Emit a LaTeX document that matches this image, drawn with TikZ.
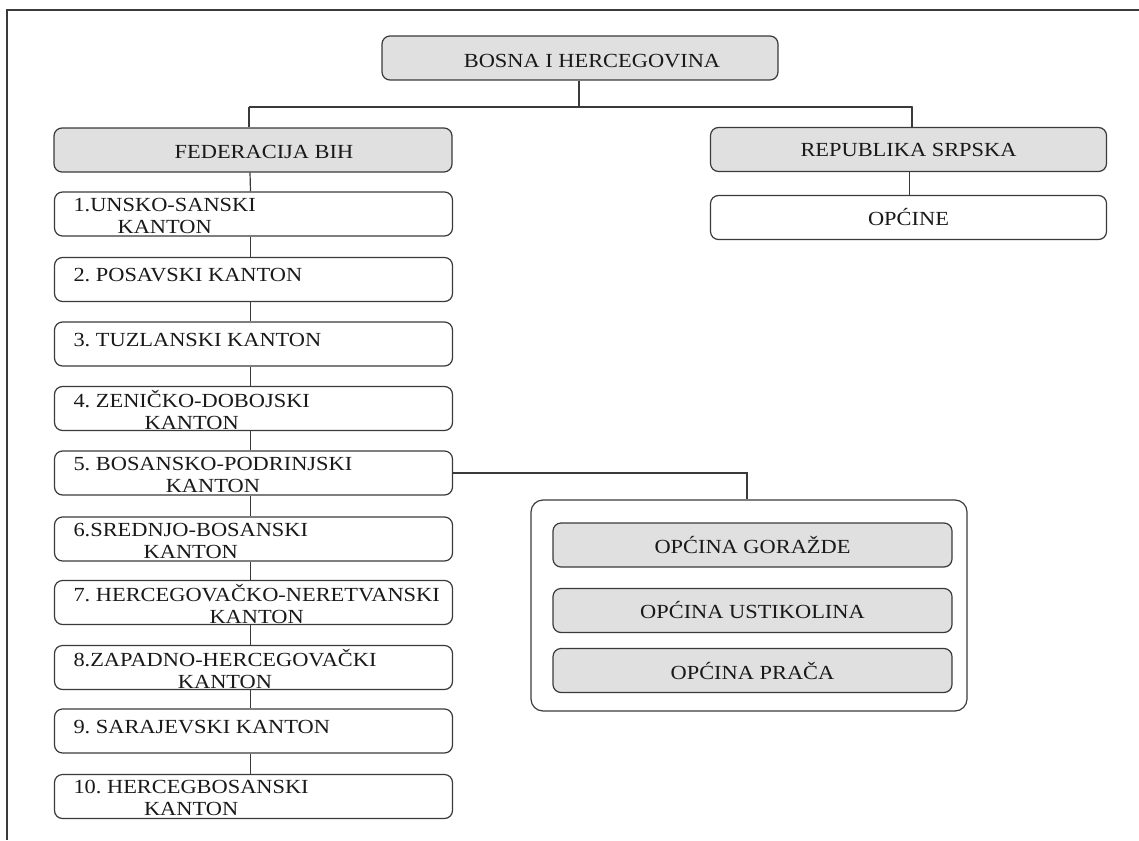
\documentclass[tikz,border=0pt]{standalone}
\usepackage{fontspec}
\setmainfont{Liberation Serif}[FakeStretch=1.12]

\definecolor{boxgray}{HTML}{E0E0E0}
\definecolor{linegray}{HTML}{3A3A3A}

\tikzset{
  unit/.style={draw=linegray, line width=0.6pt, rounded corners=4pt,
    minimum height=22pt, inner ysep=1pt, text=black!90,
    font=\fontsize{10}{11}\selectfont\frenchspacing},
  govbox/.style={unit, fill=boxgray, minimum width=198pt},
  offtext/.style={text depth=0pt, execute at begin node={\hspace*{#1}}},
  kanton/.style={unit, minimum width=199pt, inner xsep=9.5pt, text depth=4.5pt,
    execute at begin node={\hbox to 180pt\bgroup},
    execute at end node={\hfil\egroup}},
  opgroup/.style={draw=linegray, line width=0.6pt, rounded corners=6pt,
    minimum width=218pt, minimum height=105.5pt},
  link/.style={draw=linegray, line width=0.6pt}
}
\newcommand{\kt}[2]{\begin{tabular}{@{}c@{}}#1\\#2\end{tabular}}

\begin{document}
\begin{tikzpicture}[x=0.5pt, y=-0.5pt]
    \useasboundingbox (0,0) rectangle (1139,840);
    % frame, cut off at right and bottom
    \coordinate (frameTL) at (7,10);
    \draw [link] (1139,10) -- (frameTL) -- (7,840);

    % state level
    \node [govbox, offtext=12pt, text height=9.6pt] (bih) at (580,58) {BOSNA I HERCEGOVINA};
    \node [govbox, offtext=11pt, text height=8.6pt, minimum width=199pt] (fbih) at (253,150) {FEDERACIJA BIH};
    \node [govbox] (rs) at (908.5,149.5) {REPUBLIKA SRPSKA};
    \node [unit, minimum width=198pt] (rsop) at (908.5,217.5) {OPĆINE};

    \coordinate (busL) at (249,107);
    \coordinate (busR) at (912,107);
    \draw [link] (bih.south -| 579,0) -- (579,107);
    \draw [link] (busL) -- (busR);
    \fill [linegray] (busR) circle (1.2);
    \draw [link] (busL) -- (busL |- fbih.north);
    \draw [link] (busR) -- (busR |- rs.north);
    \draw [link] ([xshift=0.5pt]rs.south) -- ([xshift=0.5pt]rsop.north);

    % cantons
    \node [kanton] (k1) at (253.5,214) {\kt{1.UNSKO-SANSKI}{KANTON}};
    \node [kanton] (k2) at (253.5,279.5) {2. POSAVSKI KANTON};
    \node [kanton] (k3) at (253.5,344) {3. TUZLANSKI KANTON};
    \node [kanton] (k4) at (253.5,408.5) {\kt{4. ZENIČKO-DOBOJSKI}{KANTON}};
    \node [kanton] (k5) at (253.5,473) {\kt{5. BOSANSKO-PODRINJSKI}{KANTON}};
    \node [kanton] (k6) at (253.5,539) {\kt{6.SREDNJO-BOSANSKI}{KANTON}};
    \node [kanton] (k7) at (253.5,602.5) {\kt{7. HERCEGOVAČKO-NERETVANSKI}{KANTON}};
    \node [kanton] (k8) at (253.5,667.5) {\kt{8.ZAPADNO-HERCEGOVAČKI}{KANTON}};
    \node [kanton] (k9) at (253.5,731) {9. SARAJEVSKI KANTON};
    \node [kanton] (k10) at (253.5,796.5) {\kt{10. HERCEGBOSANSKI}{KANTON}};

    \foreach \a/\b in {fbih/k1, k1/k2, k2/k3, k3/k4, k4/k5, k5/k6, k6/k7, k7/k8, k8/k9, k9/k10}
      \draw [link] ([xshift=-1.5pt]\a.south) -- ([xshift=-1.5pt]\b.north);

    % municipalities of canton 5
    \node [opgroup] (opg) at (749,605.5) {};
    \node [govbox, minimum width=199.5pt] (gorazde) at (752.5,545) {OPĆINA GORAŽDE};
    \node [govbox, minimum width=199.5pt] (ustikolina) at (752.5,610.5) {OPĆINA USTIKOLINA};
    \node [govbox, minimum width=199.5pt] (praca) at (752.5,670.5) {OPĆINA PRAČA};
    \draw [link] (k5.east) -| ([xshift=-1pt]opg.north);
  \end{tikzpicture}
\end{document}
